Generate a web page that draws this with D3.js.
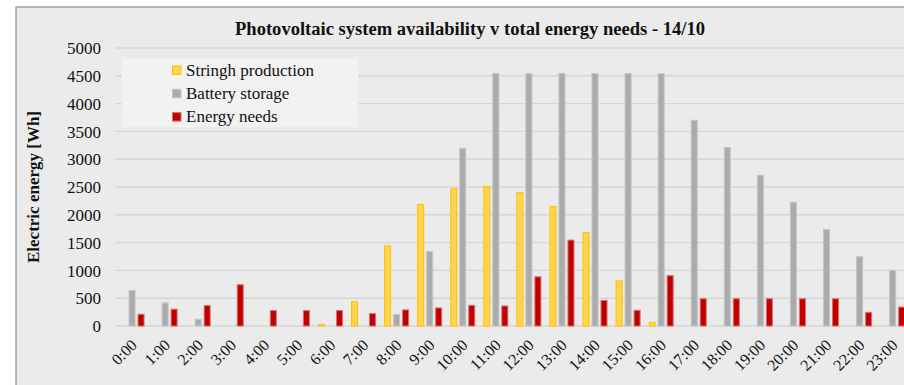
<!DOCTYPE html>
<html>
<head>
<meta charset="utf-8">
<script src="https://cdn.jsdelivr.net/npm/d3@7/dist/d3.min.js"></script>
<style>
  html, body { margin: 0; padding: 0; background: #ffffff; }
  svg { display: block; }
  text { font-family: "Liberation Serif", "Times New Roman", serif; fill: #111; }
</style>
</head>
<body>
<svg id="chart" width="904" height="385"></svg>
<script>
// Hourly slots of the day
const hours = ["0:00","1:00","2:00","3:00","4:00","5:00","6:00","7:00","8:00","9:00","10:00","11:00",
               "12:00","13:00","14:00","15:00","16:00","17:00","18:00","19:00","20:00","21:00","22:00","23:00"];

// Energy per hour [Wh]
const stringProduction = [0,0,0,0,0,0,25,435,1440,2185,2470,2510,2400,2150,1680,810,65,0,0,0,0,0,0,0];
const batteryStorage   = [640,415,120,0,0,0,0,0,205,1340,3195,4540,4540,4540,4540,4540,4540,3700,3210,2710,2225,1735,1245,1000];
const energyNeeds      = [212,302,368,742,278,278,278,222,290,325,370,360,885,1545,460,282,905,490,490,490,490,490,245,340];

const yTicks = [0,500,1000,1500,2000,2500,3000,3500,4000,4500,5000];

const seriesNames = ["Stringh production", "Battery storage", "Energy needs"];
const seriesValues = [stringProduction, batteryStorage, energyNeeds];
const seriesFill   = ["#FFD550", "#ABABAB", "#C00000"];
const seriesStroke = ["#FFC000", "#C4C4C4", "#D97070"];

const svg = d3.select("#chart");

// Chart area frame
svg.append("rect").attr("x", 16).attr("y", 7).attr("width", 920).attr("height", 400)
  .attr("fill", "#EBEBEB").attr("stroke", "#8C8C8C").attr("stroke-width", 1.2);

const plot = { left: 115.5, right: 909.2, top: 48, bottom: 326 };

const x = d3.scaleBand().domain(hours).range([plot.left, plot.right]).padding(0);
const sub = d3.scaleBand().domain(d3.range(3)).range([-13.5, 13.5]).paddingInner(0.22).paddingOuter(0.11);
const y = d3.scaleLinear().domain([0, 5000]).range([plot.bottom, plot.top]);

// Horizontal gridlines
svg.append("g").selectAll("line").data(yTicks).join("line")
  .attr("x1", plot.left).attr("x2", plot.right)
  .attr("y1", d => y(d)).attr("y2", d => y(d))
  .attr("stroke", "#D6D6D6").attr("stroke-width", 1.4);

// Y axis labels
const yAxis = d3.axisLeft(y).tickValues(yTicks).tickSize(0).tickPadding(0).tickFormat(d3.format("d"));
const gy = svg.append("g").attr("transform", `translate(101,0)`).call(yAxis);
gy.select(".domain").remove();
gy.selectAll("text").attr("font-size", 17).attr("font-family", "Liberation Serif, serif").attr("fill", "#111").attr("dy", "0.34em");

// Bars
const data = hours.map((h, i) => seriesValues.map((vals, s) => ({ h, s, v: vals[i] })));
const groups = svg.append("g").selectAll("g").data(data).join("g")
  .attr("transform", (d, i) => `translate(${x(hours[i]) + x.bandwidth() / 2},0)`);
groups.selectAll("rect").data(d => d.filter(e => e.v > 0)).join("rect")
  .attr("x", d => sub(d.s) + 0.5)
  .attr("width", sub.bandwidth() - 1)
  .attr("y", d => y(d.v))
  .attr("height", d => y(0) - y(d.v))
  .attr("fill", d => seriesFill[d.s])
  .attr("stroke", d => seriesStroke[d.s])
  .attr("stroke-width", 1);

// X axis labels (rotated)
const xAxis = d3.axisBottom(x).tickSize(0).tickPadding(0);
const gx = svg.append("g").attr("transform", `translate(0,${plot.bottom})`).call(xAxis);
gx.select(".domain").remove();
gx.selectAll("text")
  .attr("font-size", 16).attr("font-family", "Liberation Serif, serif").attr("fill", "#222")
  .attr("text-anchor", "end")
  .attr("dy", null).attr("y", 0)
  .attr("transform", "translate(6,20) rotate(-45)");

// Title
svg.append("text").attr("x", 470).attr("y", 35).attr("text-anchor", "middle")
  .attr("font-size", 18).attr("font-weight", "bold")
  .attr("textLength", 470).attr("lengthAdjust", "spacingAndGlyphs")
  .text("Photovoltaic system availability v total energy needs - 14/10");

// Y axis title
svg.append("text").attr("transform", "translate(39,187) rotate(-90)").attr("text-anchor", "middle")
  .attr("font-size", 17).attr("font-weight", "bold")
  .text("Electric energy [Wh]");

// Legend
const legend = svg.append("g");
legend.append("rect").attr("x", 122).attr("y", 59).attr("width", 236).attr("height", 68).attr("fill", "#F2F2F2");
const items = legend.selectAll("g").data(seriesNames).join("g")
  .attr("transform", (d, i) => `translate(172,${70 + i * 23.3})`);
items.append("rect").attr("x", 0.5).attr("y", -4).attr("width", 8.5).attr("height", 8.5)
  .attr("fill", (d, i) => seriesFill[i]).attr("stroke", (d, i) => seriesStroke[i]).attr("stroke-width", 1);
items.append("text").attr("x", 14).attr("y", 5.5).attr("font-size", 17).text(d => d);
</script>
</body>
</html>
